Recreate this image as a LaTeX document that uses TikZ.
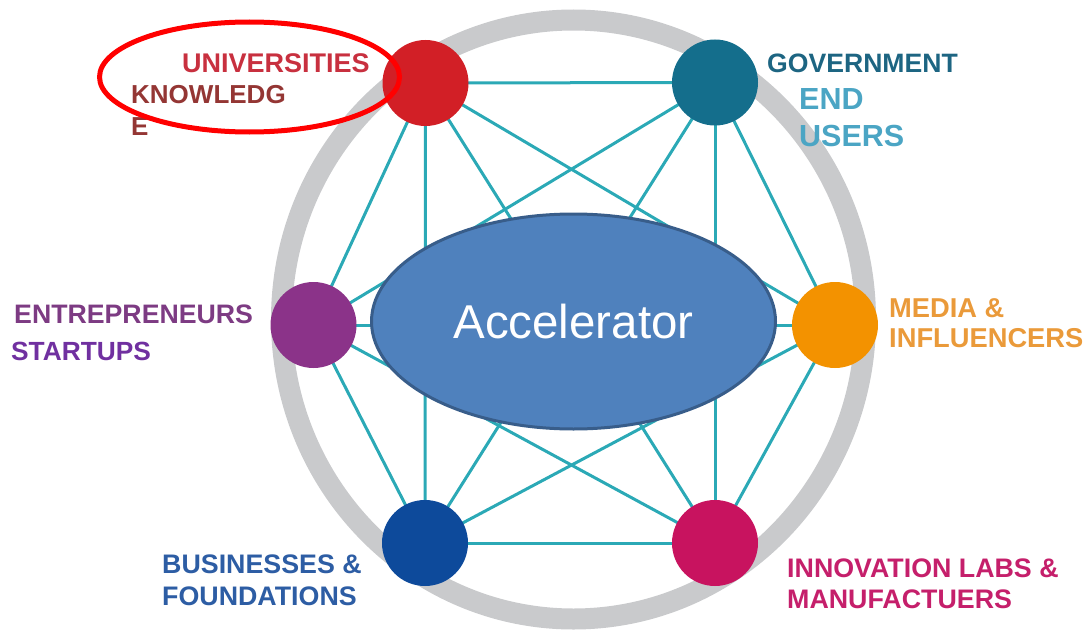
\documentclass[tikz,border=0pt]{standalone}
\usepackage{fontspec}
\setmainfont{Liberation Sans}
\usetikzlibrary{shapes.geometric}
\definecolor{ringgrey}{HTML}{C9CACC}
\definecolor{linkteal}{HTML}{2BA9B6}
\definecolor{univc}{HTML}{D21F26}
\definecolor{univt}{HTML}{C8303F}
\definecolor{knowt}{HTML}{943634}
\definecolor{govc}{HTML}{146E8C}
\definecolor{govt}{HTML}{1D6582}
\definecolor{endt}{HTML}{4BA5C4}
\definecolor{entc}{HTML}{8B3389}
\definecolor{entt}{HTML}{7D3B83}
\definecolor{startt}{HTML}{7030A0}
\definecolor{medc}{HTML}{F39200}
\definecolor{medt}{HTML}{EA9A3A}
\definecolor{busc}{HTML}{0D4A9B}
\definecolor{bust}{HTML}{2D5DA4}
\definecolor{innc}{HTML}{C8135F}
\definecolor{innt}{HTML}{C51F6B}
\definecolor{accfill}{HTML}{4F81BD}
\definecolor{accdraw}{HTML}{385D8A}
\tikzset{
  hub/.style={circle, minimum size=86pt, inner sep=0pt},
  link/.style={linkteal, line width=3pt},
  lbl/.style={anchor=base west, inner sep=0pt, font=\bfseries\fontsize{26.8}{30}\selectfont},
}
\begin{document}
\begin{tikzpicture}[x=1pt,y=-1pt]
\useasboundingbox (0,0) rectangle (1087,634);
% ring
\draw[ringgrey, line width=21pt] (573.5,319.5) ellipse [x radius=292, y radius=299.5];
% hub positions
\coordinate (pu) at (425.5,83);
\coordinate (pg) at (715,82.5);
\coordinate (pe) at (313.5,325);
\coordinate (pm) at (835,325);
\coordinate (pb) at (425,543);
\coordinate (pi) at (715,543);
% links (complete graph)
\foreach \a/\b in {pu/pg,pu/pe,pu/pm,pu/pb,pu/pi,pg/pe,pg/pm,pg/pb,pg/pi,pe/pm,pe/pb,pe/pi,pm/pb,pm/pi,pb/pi}
  \draw[link] (\a) -- (\b);
% hubs
\node[hub, fill=univc] (u) at (pu) {};
\node[hub, fill=govc] (g) at (pg) {};
\node[hub, fill=entc] (e) at (pe) {};
\node[hub, fill=medc] (m) at (pm) {};
\node[hub, fill=busc] (b) at (pb) {};
\node[hub, fill=innc] (i) at (pi) {};
% accelerator
\node[ellipse, fill=accfill, draw=accdraw, line width=3pt, minimum width=404pt, minimum height=215pt, inner sep=0pt] (acc) at (573.5,321.5) {};
\node[anchor=base, inner sep=0pt, text=white, font=\fontsize{47.5}{50}\selectfont] (acct) at (573.5,338) {Accelerator};
% labels
\node[lbl, text=univt, font=\bfseries\fontsize{27}{30}\selectfont] (lu) at (182,73) {UNIVERSITIES};
\node[lbl, text=knowt, font=\bfseries\fontsize{26}{30}\selectfont] (lk1) at (131,103) {KNOWLEDG};
\node[lbl, text=knowt, font=\bfseries\fontsize{26}{30}\selectfont] (lk2) at (131,135) {E};
\node[lbl, text=govt, font=\bfseries\fontsize{26.6}{30}\selectfont] (lg) at (767,73) {GOVERNMENT};
\node[lbl, text=endt, font=\bfseries\fontsize{30.5}{34}\selectfont] (le1) at (799,109) {END};
\node[lbl, text=endt, font=\bfseries\fontsize{30.5}{34}\selectfont] (le2) at (799,146) {USERS};
\node[lbl, text=entt, font=\bfseries\fontsize{26.7}{30}\selectfont] (len) at (14,323) {ENTREPRENEURS};
\node[lbl, text=startt, font=\bfseries\fontsize{26.3}{30}\selectfont] (lst) at (11,360) {STARTUPS};
\node[lbl, text=medt, font=\bfseries\fontsize{27.3}{30}\selectfont] (lm1) at (889,317) {MEDIA \&};
\node[lbl, text=medt, font=\bfseries\fontsize{27.3}{30}\selectfont] (lm2) at (889,347) {INFLUENCERS};
\node[lbl, text=bust] (lb1) at (162,573) {BUSINESSES \&};
\node[lbl, text=bust] (lb2) at (162,605) {FOUNDATIONS};
\node[lbl, text=innt] (li1) at (787,577) {INNOVATION LABS \&};
\node[lbl, text=innt] (li2) at (787,608) {MANUFACTUERS};
% highlight
\draw[red, line width=5pt] (249.5,77) ellipse [x radius=150, y radius=55];
\end{tikzpicture}
\end{document}
